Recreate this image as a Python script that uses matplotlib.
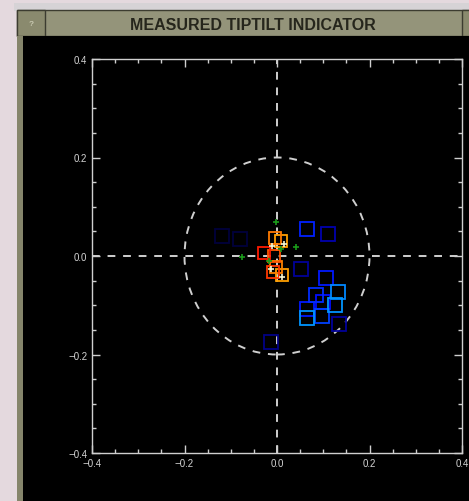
import numpy as np
import matplotlib
matplotlib.use("Agg")
import matplotlib.pyplot as plt
from matplotlib.patches import Rectangle, Circle
from matplotlib.ticker import MultipleLocator

# measured tip/tilt samples (arcsec); frame = normalised sample age for colouring
sq_x = [0.065, 0.110, 0.052, 0.105, 0.131, 0.084, 0.099, 0.125, 0.065, 0.065, 0.097, 0.135, -0.013,
        -0.120, -0.080,
        -0.004, 0.009, -0.028, -0.006, -0.002, 0.011, -0.009]
sq_y = [0.055, 0.045, -0.026, -0.045, -0.073, -0.079, -0.093, -0.100, -0.108, -0.126, -0.122, -0.138, -0.175,
        0.040, 0.035,
        0.037, 0.030, 0.006, 0.000, -0.022, -0.039, -0.033]
sq_frame = [0.16, 0.09, 0.08, 0.15, 0.26, 0.17, 0.14, 0.27, 0.15, 0.27, 0.19, 0.08, 0.07,
            0.02, 0.02,
            0.78, 0.74, 0.88, 0.82, 0.77, 0.74, 0.85]

cross_x = [-0.002, 0.041, -0.075, 0.009, -0.017]
cross_y = [0.069, 0.018, -0.002, 0.014, -0.010]

hi_x = [-0.011, 0.015, -0.013, 0.011]
hi_y = [0.020, 0.024, -0.026, -0.043]

W, H = 469, 502
fig = plt.figure(figsize=(W / 100, H / 100), dpi=100, facecolor="#e4d9de")

def px_rect(x0, y0, x1, y1, **kw):
    # rectangle in pixel coords measured from the top-left corner
    r = Rectangle((x0 / W, 1 - y1 / H), (x1 - x0) / W, (y1 - y0) / H,
                  transform=fig.transFigure, zorder=-5, **kw)
    fig.add_artist(r)

# window frame
px_rect(14, 4, W, 12, facecolor="#d6d3d6", edgecolor="none")
px_rect(17, 11, W, 37, facecolor="#94947a", edgecolor="#3c3c30", lw=1.0)
px_rect(17, 11, 45, 37, facecolor="#8a8a6e", edgecolor="#3c3c30", lw=1.0)
px_rect(462, 11, W + 2, 37, facecolor="#8a8a6e", edgecolor="#3c3c30", lw=1.0)
px_rect(17, 37, 23, H, facecolor="#85856b", edgecolor="none")
px_rect(23, 37, W, H, facecolor="black", edgecolor="none")
fig.text(31 / W, 1 - 24 / H, "?", color="#c8c8b0", fontsize=6, ha="center", va="center",
         family="Liberation Sans", fontweight="bold")
fig.text(253 / W, 1 - 25 / H, "MEASURED TIPTILT INDICATOR", color="#26261c", fontsize=11.5,
         ha="center", va="center", family="Liberation Sans", fontweight="bold")

ax = fig.add_axes([92 / W, (H - 454) / H, (462 - 92) / W, (454 - 60) / H])
ax.set_zorder(5)
ax.set_facecolor("black")
ax.set_xlim(-0.4, 0.4)
ax.set_ylim(-0.4, 0.4)

lc = "#cfcfcf"
for s in ax.spines.values():
    s.set_color(lc)
    s.set_linewidth(1.0)
ax.xaxis.set_major_locator(MultipleLocator(0.2))
ax.yaxis.set_major_locator(MultipleLocator(0.2))
ax.xaxis.set_minor_locator(MultipleLocator(0.05))
ax.yaxis.set_minor_locator(MultipleLocator(0.05))
ax.tick_params(which="both", direction="in", colors=lc, top=True, right=True,
               labelsize=7, labelcolor="#d4d4d4")
ax.tick_params(which="major", length=6, width=1)
ax.tick_params(which="minor", length=3, width=1)
ax.xaxis.set_major_formatter(plt.FuncFormatter(lambda v, p: f"{v:.1f}".replace("-", "\u2212")))
ax.yaxis.set_major_formatter(plt.FuncFormatter(lambda v, p: f"{v:.1f}".replace("-", "\u2212")))
for lab in ax.get_xticklabels() + ax.get_yticklabels():
    lab.set_family("Liberation Sans")

# crosshair and 0.2 radius ring
dash = (0, (4, 4))
ax.axhline(0, color=lc, lw=1.4, linestyle=dash)
ax.axvline(0, color=lc, lw=1.4, linestyle=dash)
ax.add_patch(Circle((0, 0), 0.2, fill=False, edgecolor=lc, lw=1.4, linestyle=dash))

# older samples fade towards black
cmap = plt.get_cmap("jet")
order = np.argsort(sq_frame)
for i in order:
    f = sq_frame[i]
    c = np.array(cmap(f)[:3]) * min(1.0, 0.3 + 5 * f)
    ms = 9 if f > 0.5 else 10
    ax.plot(sq_x[i], sq_y[i], marker="s", markersize=ms, mfc="none",
            mec=c, mew=1.3, linestyle="none")
ax.plot(cross_x, cross_y, marker="+", markersize=4, color="#1a9a1a", mew=1.2, linestyle="none")
ax.plot(hi_x, hi_y, marker="+", markersize=4, color="#f4f4d0", mew=1.2, linestyle="none")

fig.savefig("out.png", dpi=100, facecolor=fig.get_facecolor())
